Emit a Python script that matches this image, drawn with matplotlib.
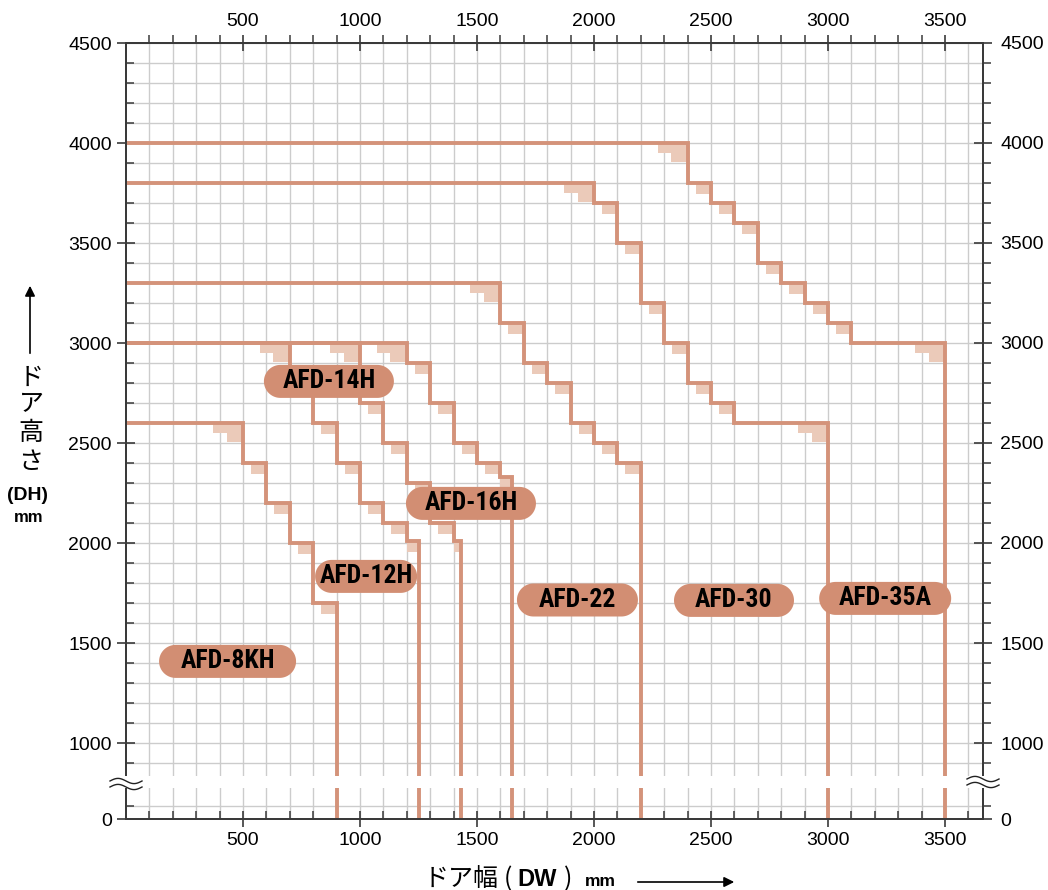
import numpy as np
import matplotlib
matplotlib.use("Agg")
import matplotlib.pyplot as plt
from matplotlib.patches import Rectangle, Polygon
from matplotlib.lines import Line2D
from matplotlib.ticker import FixedLocator, NullFormatter

# door width / height envelopes per model (step breakpoints, height before each break)
models = ["AFD-8KH", "AFD-12H", "AFD-14H", "AFD-16H", "AFD-22", "AFD-30", "AFD-35A"]
step_x = {
    "AFD-8KH": [500, 600, 700, 800, 900],
    "AFD-12H": [700, 800, 900, 1000, 1100, 1200, 1250],
    "AFD-14H": [1000, 1100, 1200, 1300, 1400, 1430],
    "AFD-16H": [1200, 1300, 1400, 1500, 1600, 1650],
    "AFD-22": [1600, 1700, 1800, 1900, 2000, 2100, 2200],
    "AFD-30": [2000, 2100, 2200, 2300, 2400, 2500, 2600, 3000],
    "AFD-35A": [2400, 2500, 2600, 2700, 2800, 2900, 3000, 3100, 3500],
}
step_h = {
    "AFD-8KH": [2600, 2400, 2200, 2000, 1700],
    "AFD-12H": [3000, 2800, 2600, 2400, 2200, 2100, 2010],
    "AFD-14H": [3000, 2700, 2500, 2300, 2100, 2010],
    "AFD-16H": [3000, 2900, 2700, 2500, 2400, 2330],
    "AFD-22": [3300, 3100, 2900, 2800, 2600, 2500, 2400],
    "AFD-30": [3800, 3700, 3500, 3200, 3000, 2800, 2700, 2600],
    "AFD-35A": [4000, 3800, 3700, 3600, 3400, 3300, 3200, 3100, 3000],
}

x_major = [500, 1000, 1500, 2000, 2500, 3000, 3500]
y_major = [0, 1000, 1500, 2000, 2500, 3000, 3500, 4000, 4500]

# layout of the name pills: centre x, centre y (data), width in px
pill_pos = {
    "AFD-8KH": (434, 1408, 137),
    "AFD-12H": (1026, 1833, 102),
    "AFD-14H": (867, 2808, 130),
    "AFD-16H": (1474, 2198, 130),
    "AFD-22": (1929, 1715, 121),
    "AFD-30": (2598, 1713, 120),
    "AFD-35A": (3244, 1723, 132),
}

LINE = "#d4937a"
SHADE = "#ebcab9"
PILL = "#d28e73"
SPINE = "#3a3a3a"
GRID = "#cccccc"
W, H = 1048, 890
XMAX = 3662
PX_X = 857 / XMAX      # px per unit in x
PX_Y = 0.2             # px per unit in y (above the break)

num_font = ["Liberation Sans", "DejaVu Sans"]
cond_font = ["Roboto Condensed", "Liberation Sans Narrow", "DejaVu Sans"]
jp_font = ["Noto Sans CJK JP", "DejaVu Sans"]


# broken y axis: 0..800 squeezed, above 800 linear
def fwd(y):
    y = np.asarray(y, dtype=float)
    return np.where(y >= 800, y - 620, y * 0.225)


def inv(d):
    d = np.asarray(d, dtype=float)
    return np.where(d >= 180, d + 620, d / 0.225)


fig = plt.figure(figsize=(W / 100, H / 100), dpi=100)
ax = fig.add_axes([126 / W, 1 - 819 / H, 857 / W, 776 / H])
ax.set_yscale("function", functions=(fwd, inv))
ax.set_xlim(0, XMAX)
ax.set_ylim(0, 4500)

x_minor = [v for v in range(100, 3700, 100) if v % 500]
y_minor = [300] + [v for v in range(900, 4500, 100) if v % 500]

ax.xaxis.set_major_locator(FixedLocator(x_major))
ax.xaxis.set_minor_locator(FixedLocator(x_minor))
ax.yaxis.set_major_locator(FixedLocator(y_major))
ax.yaxis.set_minor_locator(FixedLocator(y_minor))
ax.yaxis.set_minor_formatter(NullFormatter())
ax.set_yticklabels([str(v) for v in y_major])
ax.grid(True, which="both", color=GRID, lw=1.0)
ax.set_axisbelow(True)

ax.tick_params(axis="x", which="major", direction="inout", length=11, width=1.2,
               color=SPINE, labelsize=14, pad=4)
ax.tick_params(axis="y", which="major", direction="inout", length=12.5, width=1.2,
               color=SPINE, labelsize=14, pad=4)
ax.tick_params(axis="both", which="minor", direction="in", length=6, width=1.1, color=SPINE)
for lab in ax.get_xticklabels() + ax.get_yticklabels():
    lab.set_family(num_font)
for s in ax.spines.values():
    s.set_color(SPINE)
    s.set_linewidth(1.4)

# right axis
axr = ax.twinx()
axr.set_yscale("function", functions=(fwd, inv))
axr.set_ylim(0, 4500)
axr.yaxis.set_major_locator(FixedLocator(y_major))
axr.yaxis.set_minor_locator(FixedLocator(y_minor))
axr.yaxis.set_minor_formatter(NullFormatter())
axr.set_yticklabels([str(v) for v in y_major])
axr.tick_params(axis="y", which="major", direction="inout", length=12.5, width=1.2,
                color=SPINE, labelsize=14, pad=6)
axr.tick_params(axis="y", which="minor", direction="out", length=6, width=1.1, color=SPINE)
for lab in axr.get_yticklabels():
    lab.set_family(num_font)

# top axis
axt = ax.twiny()
axt.set_xlim(0, XMAX)
axt.xaxis.set_major_locator(FixedLocator(x_major))
axt.xaxis.set_minor_locator(FixedLocator([v for v in x_minor if v < 3500]))
axt.tick_params(axis="x", which="major", direction="inout", length=11, width=1.2,
                color=SPINE, labelsize=14, pad=4)
axt.tick_params(axis="x", which="minor", direction="out", length=6, width=1.1, color=SPINE)
for lab in axt.get_xticklabels():
    lab.set_family(num_font)
for a in (axr, axt):
    for s in a.spines.values():
        s.set_color(SPINE)
        s.set_linewidth(1.4)

# shadows and step lines
for m in models:
    xs = step_x[m]
    hs = step_h[m]
    starts = [0] + xs[:-1]
    for x0, x1, h in zip(starts, xs, hs):
        seg = x1 - x0
        if seg > 100:
            ax.add_patch(Rectangle((x1 - 128, h - 50), 128, 50, fc=SHADE, ec="none", zorder=2))
            ax.add_patch(Rectangle((x1 - 70, h - 95), 70, 95, fc=SHADE, ec="none", zorder=2))
        else:
            w = min(66, seg)
            ax.add_patch(Rectangle((x1 - w, h - 55), w, 55, fc=SHADE, ec="none", zorder=2))
    ax.step([0] + xs, hs + [0], where="post", color=LINE, lw=2.8,
            solid_joinstyle="miter", solid_capstyle="butt", zorder=3)

# name pills (round-ended boxes)
R = 16.5                      # end radius, px
rx, ry = R / PX_X, R / PX_Y
ang = np.linspace(-np.pi / 2, np.pi / 2, 40)
for m in models:
    cx, cy, wpx = pill_pos[m]
    half = wpx / PX_X / 2
    right = np.column_stack([cx + half - rx + rx * np.cos(ang), cy + ry * np.sin(ang)])
    left = np.column_stack([cx - half + rx - rx * np.cos(ang), cy - ry * np.sin(ang)])
    ax.add_patch(Polygon(np.vstack([right, left]), closed=True, fc=PILL, ec="none", zorder=5))
    ax.text(cx, cy, m, ha="center", va="center", fontsize=18.5, weight="bold",
            family=cond_font, color="black", zorder=6)

# axis break band and wavy marks
def fy(px):
    return (819 - px) / 776

band = Rectangle((-0.025, fy(788)), 1.05, fy(776) - fy(788), transform=axt.transAxes,
                 fc="white", ec="none", clip_on=False, zorder=10)
axt.add_patch(band)
t = np.linspace(0, 1, 60)
for xc, ys in ((0.0, (781, 787)), (1.0, (779, 785))):
    for yc in ys:
        xx = xc + (t - 0.5) * 2 * 16 / 857
        yy = fy(yc) + 2.6 / 776 * np.sin(2 * np.pi * t)
        axt.add_line(Line2D(xx, yy, transform=axt.transAxes, color="#222222",
                            lw=1.0, clip_on=False, zorder=11))

# y axis title (vertical, stacked)
def fp(x, y):
    return x / W, 1 - y / H

ax.annotate("", xy=(30, H - 283), xytext=(30, H - 356), xycoords="figure pixels",
            arrowprops=dict(arrowstyle="-|>", color="black", lw=1.2, mutation_scale=15))
for ch, yc in zip(["ド", "ア", "高", "さ"], [378, 404, 433, 462]):
    fig.text(*fp(31, yc), ch, ha="center", va="center", fontsize=18, family=jp_font)
fig.text(*fp(28, 495), "(DH)", ha="center", va="center", fontsize=14, weight="bold",
         family=num_font)
fig.text(*fp(29, 518), "mm", ha="center", va="center", fontsize=12, weight="bold",
         family=num_font)

# x axis title
fig.text(*fp(424, 879), "ドア幅", ha="left", va="center", fontsize=18, family=jp_font)
fig.text(*fp(508, 879), "(", ha="center", va="center", fontsize=18, family=jp_font)
fig.text(*fp(517, 879), "DW", ha="left", va="center", fontsize=17, weight="bold",
         family=num_font)
fig.text(*fp(568, 879), ")", ha="center", va="center", fontsize=18, family=jp_font)
fig.text(*fp(585, 881), "mm", ha="left", va="center", fontsize=12.5, weight="bold",
         family=num_font)
ax.annotate("", xy=(737, H - 882), xytext=(635, H - 882), xycoords="figure pixels",
            arrowprops=dict(arrowstyle="-|>", color="black", lw=1.2, mutation_scale=15))

fig.savefig("out.png", dpi=100)
